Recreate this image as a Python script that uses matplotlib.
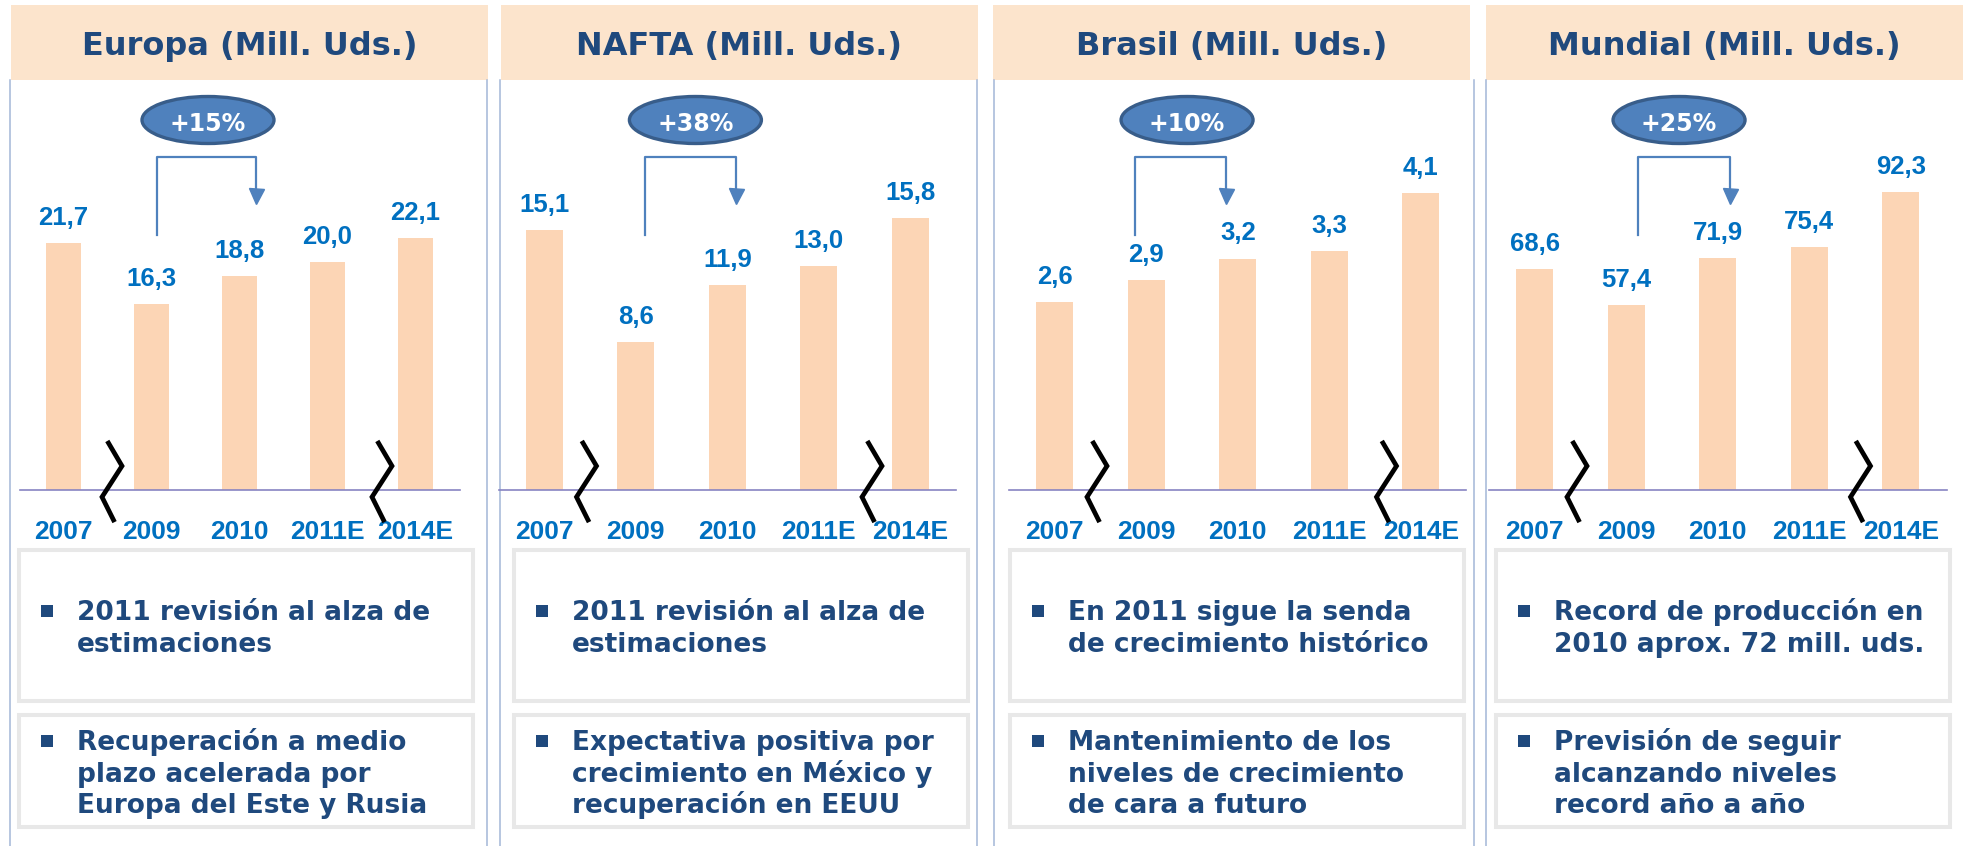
import matplotlib
matplotlib.use('Agg')
import matplotlib.pyplot as plt
import matplotlib.transforms as mtransforms
from matplotlib.patches import Rectangle, Ellipse

# data
years = ['2007', '2009', '2010', '2011E', '2014E']
regions = ['Europa', 'NAFTA', 'Brasil', 'Mundial']
europa = [21.7, 16.3, 18.8, 20.0, 22.1]
nafta = [15.1, 8.6, 11.9, 13.0, 15.8]
brasil = [2.6, 2.9, 3.2, 3.3, 4.1]
mundial = [68.6, 57.4, 71.9, 75.4, 92.3]
growth = ['+15%', '+38%', '+10%', '+25%']
notes_top = [
    ['2011 revisión al alza de', 'estimaciones'],
    ['2011 revisión al alza de', 'estimaciones'],
    ['En 2011 sigue la senda', 'de crecimiento histórico'],
    ['Record de producción en', '2010 aprox. 72 mill. uds.'],
]
notes_bottom = [
    ['Recuperación a medio', 'plazo acelerada por', 'Europa del Este y Rusia'],
    ['Expectativa positiva por', 'crecimiento en México y', 'recuperación en EEUU'],
    ['Mantenimiento de los', 'niveles de crecimiento', 'de cara a futuro'],
    ['Previsión de seguir', 'alcanzando niveles', 'record año a año'],
]
series = [europa, nafta, brasil, mundial]

# colours
NAVY = '#1F497D'
BLUE = '#0070C0'
BAR = '#FCD5B5'
HEADER = '#FCE4CC'
ACCENT = '#4F81BD'

# layout (pixels, y from top)
W, H = 1963, 846
header_left = [11, 501, 993, 1486]
header_w = 477
borders = [(10, 487), (500, 977), (994, 1474), (1486, None)]
axes_left = [19.5, 498.5, 1009, 1489]
axes_w = [440, 457.5, 457.5, 457.5]
base_y, top_y = 490, 90
ytop = [35.1, 23.26, 5.53, 124.0]
bracket_x = [(1.06, 2.19), (1.1, 2.1), (0.875, 1.87), (1.13, 2.13)]
badge_x = [1.642, 1.652, 1.446, 1.577]
break_off = [(1, 7), (-7, 4), (-7, 8), (-7, 2)]
box_left = [17, 512, 1008, 1494]
box_w = 458

fig = plt.figure(figsize=(W / 100, H / 100), dpi=100)
bg = fig.add_axes([0, 0, 1, 1], zorder=0)
bg.set_xlim(0, W)
bg.set_ylim(H, 0)
bg.axis('off')

for p in range(4):
    # header
    hl = header_left[p]
    bg.add_patch(Rectangle((hl, 5), header_w, 75, facecolor=HEADER, edgecolor='none'))
    bg.text(hl + header_w / 2, 55, f'{regions[p]} (Mill. Uds.)', ha='center', va='baseline',
            fontsize=23, fontweight='bold', color=NAVY, family='DejaVu Sans')
    # panel borders
    for bx in borders[p]:
        if bx is not None:
            bg.plot([bx, bx], [80, H], color='#A3B7D7', lw=1.1)

    # note boxes
    bl = box_left[p]
    for (y0, y1), lines, first_base in [((548, 703), notes_top[p], 620),
                                         ((713, 829), notes_bottom[p], 750)]:
        bg.add_patch(Rectangle((bl + 2, y0 + 2), box_w - 4, y1 - y0 - 4,
                               facecolor='white', edgecolor='#E8E8E8', lw=2.9))
        bg.add_patch(Rectangle((bl + 24, first_base - 15), 12, 12, facecolor=NAVY, edgecolor='none'))
        for j, line in enumerate(lines):
            bg.text(bl + 60, first_base + 31.5 * j, line, ha='left', va='baseline',
                    fontsize=19, fontweight='bold', color=NAVY, family='DejaVu Sans')

    # bar chart
    vals = series[p]
    ax = fig.add_axes([axes_left[p] / W, (H - base_y) / H, axes_w[p] / W, (base_y - top_y) / H], zorder=1)
    ax.set_facecolor('none')
    x = list(range(len(years)))
    ax.bar(x, vals, width=0.4, color=BAR, zorder=2)
    ax.set_xlim(-0.5, len(years) - 0.5)
    ax.set_ylim(0, ytop[p])
    ax.set_xticks([])
    ax.set_yticks([])
    for s in ['top', 'left', 'right']:
        ax.spines[s].set_visible(False)
    ax.spines['bottom'].set_color('#8884C2')
    ax.spines['bottom'].set_linewidth(1.2)

    trans = mtransforms.blended_transform_factory(ax.transData, bg.transData)
    spacing = axes_w[p] / len(years)

    for i, v in enumerate(vals):
        ax.annotate(f'{v:.1f}'.replace('.', ','), (i, v), xytext=(0, 13), textcoords='offset points',
                    ha='center', va='baseline', fontsize=18.5, fontweight='bold', color=BLUE,
                    family='Liberation Sans')
        ax.text(i, 539, years[i], transform=trans, ha='center', va='baseline', fontsize=19,
                fontweight='bold', color=BLUE, family='Liberation Sans', clip_on=False)

    # axis break marks
    for mid, off in zip([0.5, 3.5], break_off[p]):
        zx = [mid + (off + d) / spacing for d in [0, 13.5, -6.5, 5]]
        zy = [443, 466, 497, 520]
        ax.plot(zx, zy, transform=trans, color='black', lw=3.4, clip_on=False, zorder=5,
                solid_joinstyle='miter')

    # growth bracket
    bx0, bx1 = bracket_x[p]
    ax.plot([bx0, bx0, bx1, bx1], [235, 157, 157, 192], transform=trans, color=ACCENT,
            lw=1.6, clip_on=False, zorder=4)
    ax.plot([bx1], [196.5], transform=trans, marker='v', markersize=10.8, color=ACCENT,
            clip_on=False, zorder=4)

    # growth badge
    ax.add_patch(Ellipse((badge_x[p], 120), 132 / spacing, 47, transform=trans, facecolor=ACCENT,
                         edgecolor='#385D8A', lw=2.4, clip_on=False, zorder=6))
    ax.text(badge_x[p], 131, growth[p], transform=trans, ha='center', va='baseline', fontsize=17,
            fontweight='bold', color='white', family='DejaVu Sans', clip_on=False, zorder=7)

fig.savefig('out.png', dpi=100)
